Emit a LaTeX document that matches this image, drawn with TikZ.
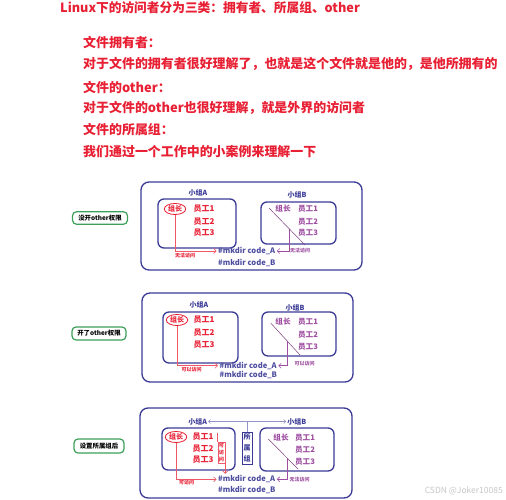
\documentclass[tikz,border=0pt]{standalone}
\usepackage{fontspec}
\setmainfont{Noto Sans CJK SC}
\usepackage{tikz}
\usetikzlibrary{shapes.geometric, arrows.meta, positioning, calc}
\definecolor{navy}{RGB}{58,58,150}
\definecolor{redtxt}{RGB}{232,32,52}
\definecolor{purp}{RGB}{158,78,160}
\definecolor{tagreen}{RGB}{60,160,90}
\tikzset{
  headline/.style={anchor=west, text=redtxt, font=\fontsize{12.7}{14}\selectfont\bfseries, inner sep=0pt},
  bodyline/.style={anchor=west, text=redtxt, font=\fontsize{12.95}{14}\selectfont\bfseries, inner sep=0pt},
  panelbox/.style={rectangle, draw=navy, line width=1.3pt, rounded corners=8pt},
  groupbox/.style={rectangle, draw=navy, line width=1.3pt, rounded corners=6pt},
  tagbox/.style={rectangle, draw=tagreen, line width=1.2pt, rounded corners=4pt,
                 font=\fontsize{6.4}{7}\selectfont\bfseries, inner sep=0pt},
  grouplabel/.style={text=navy, font=\fontsize{7}{8}\selectfont\bfseries, inner sep=1pt},
  leaderoval/.style={ellipse, draw=redtxt, line width=0.8pt, text=redtxt,
                     font=\fontsize{7}{8}\selectfont\bfseries, inner sep=0.6pt},
  staffA/.style={text=redtxt, font=\fontsize{8}{9}\selectfont\bfseries, inner sep=0pt},
  staffB/.style={text=purp, font=\fontsize{7.6}{9}\selectfont\bfseries, inner sep=0pt},
  cmdtext/.style={anchor=west, text=navy!90, font=\fontsize{7.6}{9}\selectfont\bfseries, inner sep=1.5pt},
  accessA/.style={text=redtxt, font=\fontsize{5}{6}\selectfont\bfseries, inner sep=0pt},
  accessB/.style={text=purp, font=\fontsize{5}{6}\selectfont\bfseries, inner sep=0pt},
  linkA/.style={draw=redtxt!75, line width=0.6pt, -{Straight Barb[length=2.5pt, width=5pt]}},
  linkB/.style={draw=purp, line width=0.6pt, -{Straight Barb[length=2.5pt, width=5pt]}},
  strike/.style={draw=purp!80!black, line width=0.5pt},
}
\begin{document}
\begin{tikzpicture}[x=1pt, y=-1pt]
  \useasboundingbox (0,0) rectangle (506,500);

  % Heading text
  \node[headline] (title) at (60,8) {Linux下的访问者分为三类：拥有者、所属组、other};
  \node[bodyline] (t1) at (83,43) {文件拥有者：};
  \node[bodyline] (t2) at (83,64) {对于文件的拥有者很好理解了，也就是这个文件就是他的，是他所拥有的};
  \node[bodyline] (t3) at (83,87) {文件的other：};
  \node[bodyline] (t4) at (83,108) {对于文件的other也很好理解，就是外界的访问者};
  \node[bodyline] (t5) at (83,130) {文件的所属组：};
  \node[bodyline] (t6) at (83,152) {我们通过一个工作中的小案例来理解一下};

  % Panel 1: other not opened
  \node[tagbox, minimum width=55pt, minimum height=12.5pt] (p1tag) at (100,218) {没开other权限};
  \node[panelbox, minimum width=221pt, minimum height=88pt] (p1) at (251.5,226) {};
  \node[groupbox, minimum width=78pt, minimum height=49pt] (p1A) at (197,223.5) {};
  \node[groupbox, minimum width=75pt, minimum height=42pt] (p1B) at (298.5,223) {};
  \node[grouplabel] (p1Alabel) at (198,193) {小组A};
  \node[grouplabel] (p1Blabel) at (297,195) {小组B};
  \node[leaderoval] (p1lead) at (175,209) {组长};
  \node[staffA] (p1a1) at (204,209) {员工1};
  \node[staffA] (p1a2) at (204,222) {员工2};
  \node[staffA] (p1a3) at (204,232.5) {员工3};
  \node[staffB] (p1blead) at (283,209) {组长};
  \node[staffB] (p1b1) at (308,209) {员工1};
  \node[staffB] (p1b2) at (308,222) {员工2};
  \node[staffB] (p1b3) at (308,233) {员工3};
  \coordinate (p1s) at (269,208);
  \coordinate (p1e) at (305,245);
  \draw[strike] (p1s) -- (p1e);
  \coordinate (p1cut) at ($(p1s)!0.56!(p1e)$);
  \node[cmdtext] (p1codeA) at (216.5,251) {\#mkdir code\_A};
  \node[cmdtext] (p1codeB) at (216.5,262.7) {\#mkdir code\_B};
  \draw[linkA] (p1lead.south) |- (p1codeA.west);
  \draw[linkB] (p1cut) |- (p1codeA.east);
  \node[accessA] (p1noA) at (185,256) {无法访问};
  \node[accessB] (p1noB) at (300,251) {无法访问};

  % Panel 2: other opened
  \node[tagbox, minimum width=54pt, minimum height=13pt] (p2tag) at (99,333.5) {开了other权限};
  \node[panelbox, minimum width=211pt, minimum height=89pt] (p2) at (247.5,337.5) {};
  \node[groupbox, minimum width=75pt, minimum height=51pt] (p2A) at (200.5,337.5) {};
  \node[groupbox, minimum width=74pt, minimum height=44pt] (p2B) at (299,334) {};
  \node[grouplabel] (p2Alabel) at (199,305) {小组A};
  \node[grouplabel] (p2Blabel) at (295,308) {小组B};
  \node[leaderoval] (p2lead) at (177,320) {组长};
  \node[staffA] (p2a1) at (204,320) {员工1};
  \node[staffA] (p2a2) at (204,333) {员工2};
  \node[staffA] (p2a3) at (204,345) {员工3};
  \node[staffB] (p2blead) at (283,322) {组长};
  \node[staffB] (p2b1) at (308,322) {员工1};
  \node[staffB] (p2b2) at (308,335) {员工2};
  \node[staffB] (p2b3) at (308,347) {员工3};
  \coordinate (p2s) at (270.7,323);
  \coordinate (p2e) at (300,355);
  \draw[strike] (p2s) -- (p2e);
  \coordinate (p2cut) at ($(p2s)!0.57!(p2e)$);
  \node[cmdtext] (p2codeA) at (218,365.7) {\#mkdir code\_A};
  \node[cmdtext] (p2codeB) at (218,375) {\#mkdir code\_B};
  \draw[linkA] (p2lead.south) |- (p2codeA.west);
  \draw[linkB] (p2cut) |- (p2codeA.east);
  \node[accessA] (p2okA) at (191.7,369.5) {可以访问};
  \node[accessB] (p2okB) at (304.7,364) {可以访问};

  % Panel 3: after setting the owning group
  \node[tagbox, minimum width=50pt, minimum height=14pt] (p3tag) at (99,446) {设置所属组后};
  \node[panelbox, minimum width=212pt, minimum height=90pt] (p3) at (246,453) {};
  \node[groupbox, minimum width=73pt, minimum height=42pt] (p3A) at (198.5,449) {};
  \node[groupbox, minimum width=74pt, minimum height=43pt] (p3B) at (297,449.5) {};
  \node[grouplabel] (p3Alabel) at (197.7,421.5) {小组A};
  \node[grouplabel] (p3Blabel) at (296.7,421.5) {小组B};
  \draw[draw=navy!55, line width=0.5pt, {Straight Barb[length=2pt, width=4pt]}-{Straight Barb[length=2pt, width=4pt]}]
    (p3Alabel.east) -- (p3Blabel.west);
  \node[rectangle, draw=navy, line width=0.8pt, text=navy, align=center, inner sep=1.5pt,
        font=\fontsize{7}{11}\selectfont\bfseries] (p3own) at (247,448.3) {所\\属\\组};
  \draw[draw=navy!55, line width=0.5pt] (p3own.north) -- (p3own.north |- p3Alabel.east);
  \node[leaderoval] (p3lead) at (176,437) {组长};
  \node[staffA] (p3a1) at (203,437) {员工1};
  \node[staffA] (p3a2) at (203,448.5) {员工2};
  \node[staffA] (p3a3) at (203,460) {员工3};
  \node[rectangle, draw=redtxt!75, line width=0.5pt, text=redtxt, align=center, inner sep=1pt,
        font=\fontsize{5.2}{7}\selectfont\bfseries] (p3ok) at (221.4,453) {可\\访\\问};
  \coordinate (p3bar) at (p3ok.north west |- p3a1.north);
  \draw[draw=redtxt!75, line width=0.5pt] (p3bar) -- (p3ok.north west);
  \node[staffB] (p3blead) at (281,438) {组长};
  \node[staffB] (p3b1) at (305,438) {员工1};
  \node[staffB] (p3b2) at (305,450) {员工2};
  \node[staffB] (p3b3) at (305,462) {员工3};
  \coordinate (p3s) at (268.3,439);
  \coordinate (p3e) at (298.3,469.3);
  \draw[strike] (p3s) -- (p3e);
  \coordinate (p3cut) at ($(p3s)!0.63!(p3e)$);
  \node[cmdtext] (p3codeA) at (216.5,479.3) {\#mkdir code\_A};
  \node[cmdtext] (p3codeB) at (216.5,490) {\#mkdir code\_B};
  \draw[linkA] (p3ok.south east) -- (p3ok.south east |- p3codeA.north);
  \draw[linkA] (p3lead.south) |- (p3codeA.west);
  \draw[linkB] (p3cut) |- (p3codeA.east);
  \node[accessA] (p3okA) at (186.7,483) {可访问};
  \node[accessB] (p3noB) at (299.5,480) {无法访问};

  % Watermark
  \node[text=gray!45, font=\fontsize{8.5}{9}\selectfont, anchor=east, inner sep=0pt] (mark) at (503,491) {CSDN @Joker10085};
\end{tikzpicture}
\end{document}
